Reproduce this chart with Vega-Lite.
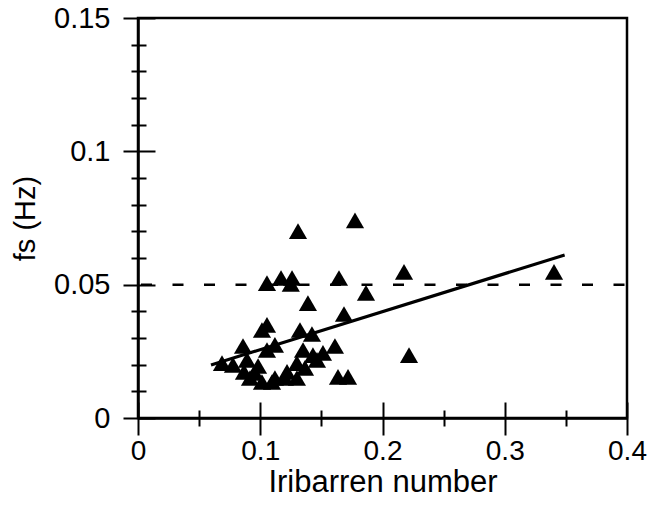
{
  "$schema": "https://vega.github.io/schema/vega-lite/v6.json",
  "autosize": "none",
  "width": 489,
  "height": 400,
  "padding": {"left": 138, "top": 18, "right": 30, "bottom": 106},
  "background": "white",
  "config": {
    "view": {"stroke": "black", "strokeWidth": 2.5},
    "font": "Liberation Sans"
  },
  "datasets": {
    "pts": [
      {"xi": 0.1309, "fs": 0.0701}, {"xi": 0.1775, "fs": 0.0741},
      {"xi": 0.1055, "fs": 0.0506}, {"xi": 0.117, "fs": 0.0525},
      {"xi": 0.126, "fs": 0.0525}, {"xi": 0.125, "fs": 0.0503},
      {"xi": 0.1644, "fs": 0.0525}, {"xi": 0.139, "fs": 0.0431},
      {"xi": 0.1865, "fs": 0.0469}, {"xi": 0.1685, "fs": 0.039},
      {"xi": 0.2176, "fs": 0.0548}, {"xi": 0.2217, "fs": 0.0236},
      {"xi": 0.3403, "fs": 0.0548}, {"xi": 0.1014, "fs": 0.033},
      {"xi": 0.1055, "fs": 0.0349}, {"xi": 0.1325, "fs": 0.033},
      {"xi": 0.1423, "fs": 0.0315}, {"xi": 0.0859, "fs": 0.027},
      {"xi": 0.1055, "fs": 0.0255}, {"xi": 0.112, "fs": 0.0274},
      {"xi": 0.135, "fs": 0.0255}, {"xi": 0.1431, "fs": 0.0236},
      {"xi": 0.1513, "fs": 0.0244}, {"xi": 0.1611, "fs": 0.027},
      {"xi": 0.13, "fs": 0.0206}, {"xi": 0.0687, "fs": 0.0206},
      {"xi": 0.0777, "fs": 0.0199}, {"xi": 0.0892, "fs": 0.0218},
      {"xi": 0.0982, "fs": 0.0195}, {"xi": 0.0916, "fs": 0.015},
      {"xi": 0.1014, "fs": 0.0135}, {"xi": 0.1096, "fs": 0.0135},
      {"xi": 0.1202, "fs": 0.015}, {"xi": 0.13, "fs": 0.015},
      {"xi": 0.112, "fs": 0.015}, {"xi": 0.1636, "fs": 0.0154},
      {"xi": 0.1718, "fs": 0.0154}, {"xi": 0.0867, "fs": 0.0173},
      {"xi": 0.1219, "fs": 0.0173}, {"xi": 0.1366, "fs": 0.0188},
      {"xi": 0.1464, "fs": 0.0218}, {"xi": 0.0957, "fs": 0.0169}
    ],
    "fit": [
      {"xi": 0.0597, "fs": 0.0199},
      {"xi": 0.349, "fs": 0.0611}
    ],
    "ref": [
      {"fs": 0.05}
    ]
  },
  "layer": [
    {
      "data": {"name": "fit"},
      "mark": {"type": "line", "color": "black", "strokeWidth": 3.2},
      "encoding": {
        "x": {
          "field": "xi", "type": "quantitative",
          "scale": {"domain": [0, 0.4], "nice": false},
          "axis": {
            "orient": "bottom", "values": [0, 0.05, 0.1, 0.15, 0.2, 0.25, 0.3, 0.35, 0.4],
            "labels": false, "domain": false, "title": null, "grid": false,
            "tickColor": "black", "tickWidth": 2,
            "tickSize": {"condition": {"test": "abs(datum.value*10 - round(datum.value*10)) < 0.001", "value": -16}, "value": -8}
          }
        },
        "y": {
          "field": "fs", "type": "quantitative",
          "scale": {"domain": [0, 0.15], "nice": false},
          "axis": {
            "orient": "left", "values": [0, 0.01, 0.02, 0.03, 0.04, 0.05, 0.06, 0.07, 0.08, 0.09, 0.1, 0.11, 0.12, 0.13, 0.14, 0.15],
            "labels": false, "domain": false, "title": null, "grid": false,
            "tickColor": "black", "tickWidth": 2,
            "tickSize": {"condition": {"test": "abs(datum.value*20 - round(datum.value*20)) < 0.001", "value": -17}, "value": -8}
          }
        }
      }
    },
    {
      "data": {"name": "ref"},
      "mark": {"type": "rule", "color": "black", "strokeWidth": 2.5, "strokeDash": [11, 20.5], "strokeDashOffset": 29},
      "encoding": {"y": {"field": "fs", "type": "quantitative", "axis": null}}
    },
    {
      "data": {"name": "pts"},
      "mark": {"type": "point", "shape": "triangle-up", "filled": true, "color": "black", "opacity": 1, "size": 330},
      "encoding": {
        "x": {
          "field": "xi", "type": "quantitative",
          "scale": {"domain": [0, 0.4], "nice": false},
          "axis": {
            "orient": "bottom", "values": [0, 0.05, 0.1, 0.15, 0.2, 0.25, 0.3, 0.35, 0.4],
            "title": "Iribarren number", "titleFontSize": 31, "titleFontWeight": "normal", "titleColor": "black", "titlePadding": 2,
            "labelFontSize": 28, "labelColor": "black", "labelPadding": 2, "labelFlush": false,
            "labelExpr": "abs(datum.value*10 - round(datum.value*10)) < 0.001 ? format(datum.value, '~g') : ''",
            "domainColor": "black", "domainWidth": 2.5, "grid": false,
            "tickColor": "black", "tickWidth": 2,
            "tickSize": {"condition": {"test": "abs(datum.value*10 - round(datum.value*10)) < 0.001", "value": 17}, "value": 8}
          }
        },
        "y": {
          "field": "fs", "type": "quantitative",
          "scale": {"domain": [0, 0.15], "nice": false},
          "axis": {
            "orient": "left", "values": [0, 0.01, 0.02, 0.03, 0.04, 0.05, 0.06, 0.07, 0.08, 0.09, 0.1, 0.11, 0.12, 0.13, 0.14, 0.15],
            "title": "fs (Hz)", "titleFontSize": 29, "titleFontWeight": "normal", "titleColor": "black", "titlePadding": 13,
            "labelFontSize": 29, "labelColor": "black", "labelPadding": 13, "labelFlush": false,
            "labelExpr": "abs(datum.value*20 - round(datum.value*20)) < 0.001 ? format(datum.value, '~g') : ''",
            "domainColor": "black", "domainWidth": 2.5, "grid": false,
            "tickColor": "black", "tickWidth": 2,
            "tickSize": {"condition": {"test": "abs(datum.value*20 - round(datum.value*20)) < 0.001", "value": 15}, "value": 7}
          }
        }
      }
    }
  ],
  "resolve": {"axis": {"x": "independent", "y": "independent"}}
}
